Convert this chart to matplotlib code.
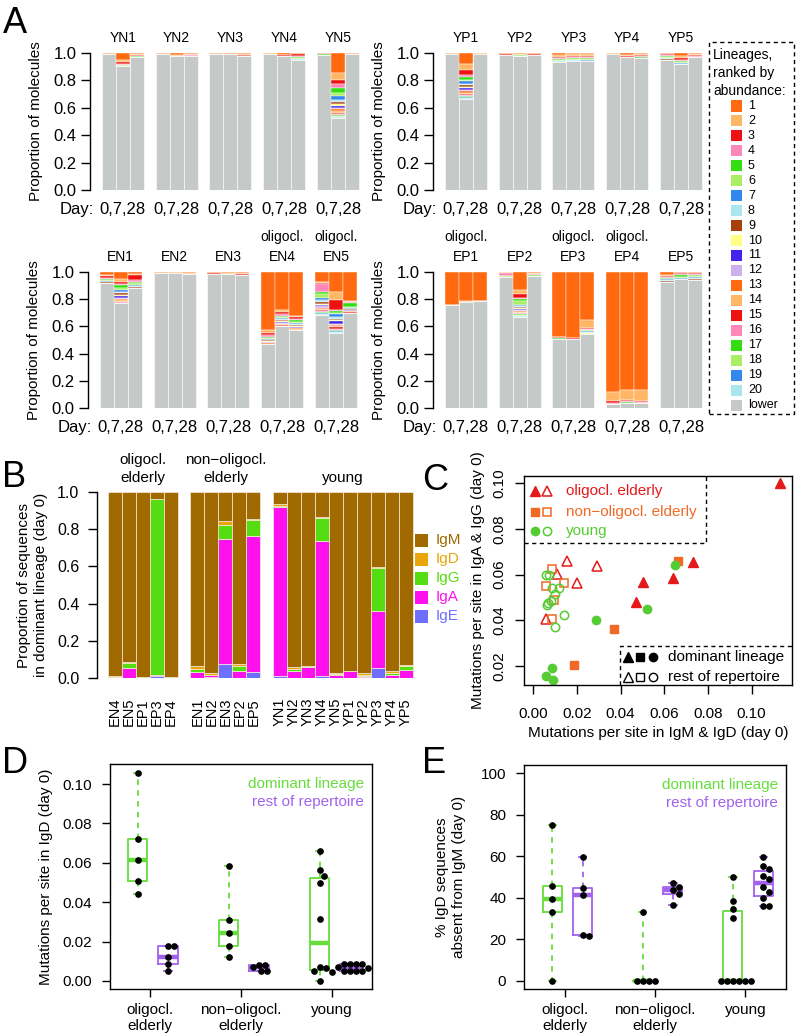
import numpy as np
import matplotlib
matplotlib.use("Agg")
import matplotlib.pyplot as plt
from matplotlib.patches import Rectangle
from matplotlib.lines import Line2D

plt.rcParams['font.family'] = ['Liberation Sans', 'DejaVu Sans']
plt.rcParams['axes.linewidth'] = 1.0

# ---------------- Panel A data: top-20 lineage proportions per day (0, 7, 28) ----------------
days = ["0", "7", "28"]
rank_colors = ['#FF6A10', '#FFB766', '#EE1111', '#FF88BB', '#33DD11', '#AAEE66',
               '#3388EE', '#AAE6EE', '#A8400E', '#FFFF88', '#4422EE', '#CCB0EE']
lower_color = '#C5CAC8'
rank_labels = [str(i) for i in range(1, 21)] + ["lower"]

YN1 = [[0.004, 0.002, 0.002],
       [0.05, 0.018, 0.012, 0.006, 0.004, 0.003, 0.002],
       [0.008, 0.006, 0.005, 0.004, 0.003, 0.002, 0.002]]
YN2 = [[0.005, 0.002, 0.001], [0.012, 0.008, 0.004], [0.008, 0.006, 0.004, 0.002]]
YN3 = [[0.005, 0.003, 0.002], [0.004, 0.002], [0.01, 0.006, 0.004, 0.003]]
YN4 = [[0.003, 0.002], [0.012, 0.006, 0.004],
       [0.004, 0.004, 0.012, 0.008, 0.008, 0.006, 0.005, 0.004]]
YN5 = [[0.001, 0.001, 0.001, 0.006, 0.002],
       [0.146, 0.049, 0.034, 0.029, 0.034, 0.024, 0.029, 0.015, 0.015, 0.01,
        0.015, 0.01, 0.015, 0.01, 0.01, 0.007, 0.007, 0.005, 0.005, 0.005],
       [0.005, 0.003, 0.002]]
YP1 = [[0.003, 0.002],
       [0.078, 0.049, 0.032, 0.017, 0.02, 0.012, 0.017, 0.007, 0.017, 0.007,
        0.017, 0.007, 0.012, 0.007, 0.01, 0.005, 0.005, 0.005, 0.005, 0.005],
       [0.003, 0.002]]
YP2 = [[0.006, 0.004, 0.002], [0.006, 0.005, 0.004, 0.003, 0.003, 0.002, 0.002], [0.005, 0.004, 0.002]]
YP3 = [[0.015, 0.012, 0.01, 0.008, 0.006, 0.006, 0.005, 0.005],
       [0.01, 0.01, 0.008, 0.008, 0.006, 0.006, 0.006, 0.005],
       [0.01, 0.01, 0.01, 0.008, 0.008, 0.006, 0.004, 0.004]]
YP4 = [[0.003, 0.002], [0.015, 0.01, 0.005], [0.01, 0.008, 0.006, 0.006, 0.005]]
YP5 = [[0.004, 0.004, 0.008, 0.006, 0.006, 0.005, 0.005, 0.005, 0.005],
       [0.025, 0.015, 0.01, 0.008, 0.007, 0.006, 0.006, 0.005],
       [0.008, 0.008, 0.006, 0.005, 0.004]]
EN1 = [[0.02, 0.012, 0.01, 0.008, 0.008, 0.007, 0.007, 0.005, 0.005],
       [0.05, 0.02, 0.015, 0.012, 0.02, 0.012, 0.018, 0.01, 0.012, 0.008,
        0.012, 0.008, 0.008, 0.012, 0.005, 0.008],
       [0.012, 0.008, 0.04, 0.012, 0.01, 0.01, 0.008, 0.008, 0.006]]
EN2 = [[0.004, 0.003, 0.002], [0.003, 0.002], [0.008, 0.006, 0.004]]
EN3 = [[0.006, 0.004, 0.002], [0.008, 0.004, 0.003], [0.01, 0.008, 0.004]]
EN4 = [[0.43, 0.02, 0.015, 0.01, 0.008, 0.008, 0.006, 0.006, 0.005, 0.005, 0.005, 0.004, 0.004],
       [0.28, 0.012, 0.02, 0.01, 0.01, 0.008, 0.008, 0.008, 0.007, 0.006, 0.006,
        0.005, 0.005, 0.005, 0.005, 0.005],
       [0.32, 0.012, 0.015, 0.008, 0.01, 0.008, 0.008, 0.008, 0.008, 0.006, 0.006, 0.006, 0.005, 0.005]]
EN5 = [[0.076, 0.005, 0.005, 0.059, 0.015, 0.034, 0.015, 0.012, 0.012, 0.01,
        0.01, 0.01, 0.008, 0.008, 0.008, 0.006, 0.006, 0.005, 0.005, 0.005],
       [0.147, 0.061, 0.069, 0.01, 0.012, 0.01, 0.025, 0.01, 0.01, 0.008,
        0.02, 0.008, 0.01, 0.008, 0.008, 0.008, 0.007, 0.006, 0.005, 0.005],
       [0.215, 0.005, 0.004, 0.004, 0.03, 0.008, 0.004, 0.004, 0.004, 0.003,
        0.003, 0.003, 0.003, 0.003, 0.01]]
EP1 = [[0.24, 0.004, 0.002], [0.21, 0.008, 0.003], [0.21, 0.004, 0.002]]
EP2 = [[0.002, 0.003, 0.002, 0.02, 0.005, 0.004],
       [0.13, 0.03, 0.03, 0.01, 0.012, 0.028, 0.01, 0.008, 0.008, 0.008,
        0.008, 0.006, 0.006, 0.006, 0.005, 0.005, 0.005, 0.005, 0.005, 0.005],
       [0.008, 0.006, 0.004, 0.004, 0.004, 0.005]]
EP3 = [[0.475, 0.003, 0.008, 0.002, 0.002], [0.485, 0.003, 0.002],
       [0.35, 0.06, 0.008, 0.006, 0.006, 0.006, 0.005, 0.005, 0.004, 0.004]]
EP4 = [[0.88, 0.07, 0.012, 0.005, 0.003], [0.87, 0.07, 0.012, 0.006, 0.004],
       [0.865, 0.08, 0.012, 0.005, 0.003]]
EP5 = [[0.025, 0.008, 0.006, 0.006, 0.005, 0.005, 0.005, 0.005, 0.005],
       [0.006, 0.004, 0.008, 0.006, 0.01, 0.008, 0.006, 0.004],
       [0.006, 0.005, 0.004, 0.01, 0.006, 0.008, 0.006, 0.01, 0.004]]

A_names_tl = ["YN1", "YN2", "YN3", "YN4", "YN5"]
A_names_tr = ["YP1", "YP2", "YP3", "YP4", "YP5"]
A_names_bl = ["EN1", "EN2", "EN3", "EN4", "EN5"]
A_names_br = ["EP1", "EP2", "EP3", "EP4", "EP5"]
A_data_tl = [YN1, YN2, YN3, YN4, YN5]
A_data_tr = [YP1, YP2, YP3, YP4, YP5]
A_data_bl = [EN1, EN2, EN3, EN4, EN5]
A_data_br = [EP1, EP2, EP3, EP4, EP5]
oligoclonal = ["EN4", "EN5", "EP1", "EP3", "EP4"]

# ---------------- Panel B data ----------------
B_names = ["EN4", "EN5", "EP1", "EP3", "EP4", "EN1", "EN2", "EN3", "EP2", "EP5",
           "YN1", "YN2", "YN3", "YN4", "YN5", "YP1", "YP2", "YP3", "YP4", "YP5"]
B_group_sizes = [5, 5, 10]
B_group_titles = [("oligocl.", "elderly"), ("non\u2212oligocl.", "elderly"), ("", "young")]
B_IgE = [0.004, 0, 0, 0.01, 0, 0, 0.004, 0.075, 0, 0.03,
         0.012, 0, 0, 0.01, 0, 0, 0.005, 0.052, 0, 0]
B_IgA = [0.002, 0.052, 0.002, 0.005, 0, 0.03, 0.012, 0.67, 0.037, 0.735,
         0.91, 0.038, 0.06, 0.725, 0.018, 0.035, 0.008, 0.31, 0.018, 0.042]
B_IgG = [0, 0.028, 0, 0.945, 0, 0.02, 0.002, 0.075, 0.025, 0.085,
         0.003, 0.012, 0.006, 0.125, 0.002, 0, 0.003, 0.228, 0.01, 0.02]
B_IgD = [0.003, 0.006, 0.006, 0.003, 0.005, 0.015, 0.01, 0.025, 0.012, 0.005,
         0.012, 0.01, 0, 0.005, 0.005, 0.002, 0.012, 0.006, 0.01, 0.008]
B_isotypes = ["IgM", "IgD", "IgG", "IgA", "IgE"]
B_colors = {"IgM": '#A06A00', "IgD": '#E8A60A', "IgG": '#55DD11',
            "IgA": '#FF11EE', "IgE": '#6E6EFF'}

# ---------------- Panel C data ----------------
C_labels = ["oligocl. elderly", "non\u2212oligocl. elderly", "young"]
C_colors = ['#E41A1A', '#F06A25', '#55CC33']
C_markers = ['^', 's', 'o']
C_dom_x = [[0.113, 0.0730, 0.0641, 0.0503, 0.0469],
           [0.0665, 0.0369, 0.0186],
           [0.0649, 0.0519, 0.0287, 0.0084, 0.0061, 0.0089]]
C_dom_y = [[0.100, 0.0656, 0.0587, 0.0570, 0.0481],
           [0.0660, 0.0364, 0.0204],
           [0.0641, 0.0449, 0.0401, 0.0192, 0.0156, 0.0141]]
C_rest_x = [[0.0157, 0.0290, 0.0110, 0.0201, 0.0057],
            [0.0084, 0.0058, 0.0140, 0.0096, 0.0084],
            [0.0058, 0.0073, 0.0087, 0.0119, 0.0101, 0.0067, 0.0064, 0.0142, 0.0098, 0.0081]]
C_rest_y = [[0.0659, 0.0637, 0.0604, 0.0564, 0.0404],
            [0.0627, 0.0550, 0.0564, 0.0489, 0.0404],
            [0.0597, 0.0600, 0.0542, 0.0541, 0.0516, 0.0478, 0.0468, 0.0424, 0.0370, 0.0486]]

# ---------------- Panels D / E data ----------------
group_labels = ["oligocl.\nelderly", "non\u2212oligocl.\nelderly", "young"]
D_dom = [[0.1055, 0.0723, 0.0615, 0.051, 0.044],
         [0.0584, 0.031, 0.0245, 0.0179, 0.012],
         [0.066, 0.0563, 0.0535, 0.0496, 0.0315, 0.0073, 0.0064, 0.0052, 0.0047, 0.0]]
D_rest = [[0.0179, 0.0178, 0.012, 0.0085, 0.0052],
          [0.0081, 0.0080, 0.0070, 0.0052, 0.0050],
          [0.0087, 0.0087, 0.0086, 0.0085, 0.0070, 0.0066, 0.0052, 0.0052, 0.0050, 0.0050]]
E_dom = [[75.0, 45.5, 39.3, 33.3, 0.0],
         [33.3, 0.0, 0.0, 0.0, 0.0],
         [50.0, 38.5, 34.5, 30.0, 0.0, 0.0, 0.0, 0.0, 0.0, 0.0]]
E_rest = [[59.5, 44.6, 41.3, 22.1, 21.5],
          [47.0, 45.0, 43.5, 42.0, 36.7],
          [59.5, 55.5, 54.0, 50.5, 49.0, 45.0, 43.0, 40.0, 35.8, 35.8]]
GREEN = '#66DD3C'
PURPLE = '#A262EE'

# =========================================================================
W, H = 796, 1036
fig = plt.figure(figsize=(W / 100, H / 100), dpi=100)


def axpx(l, t, r, b):
    return fig.add_axes([l / W, 1 - b / H, (r - l) / W, (b - t) / H])


def ftext(x, y, s, **kw):
    return fig.text(x / W, 1 - y / H, s, **kw)


def left_only(ax):
    for s in ['top', 'right', 'bottom']:
        ax.spines[s].set_visible(False)


# ---------------- Panel A ----------------
A_PITCH = 3.84


def lineage_panel(box, names, data):
    ax = axpx(*box)
    for g, (nm, subj) in enumerate(zip(names, data)):
        for i, vals in enumerate(subj):
            x = g * A_PITCH + i
            low = 1.0 - sum(vals)
            ax.bar(x, low, width=1.0, color=lower_color, edgecolor='white', linewidth=0.4)
            top = 1.0
            for r, v in enumerate(vals):
                ax.bar(x, v, bottom=top - v, width=1.0, color=rank_colors[r % 12],
                       edgecolor='white', linewidth=0.3)
                top -= v
        xc = g * A_PITCH + 1
        ax.annotate(nm, (xc, 1.0), xytext=(0, 10.8), textcoords='offset points',
                    ha='center', va='center', fontsize=10, annotation_clip=False)
        if nm in oligoclonal:
            ax.annotate("oligocl.", (xc, 1.0), xytext=(0, 25.2), textcoords='offset points',
                        ha='center', va='center', fontsize=10, annotation_clip=False)
        ax.annotate(",".join(days), (xc, 0.0), xytext=(0, -13.7), textcoords='offset points',
                    ha='center', va='center', fontsize=12, annotation_clip=False)
    ax.annotate("Day:", (0, 0), xycoords='axes fraction', xytext=(2.9, -13.7),
                textcoords='offset points', ha='right', va='center', fontsize=12)
    ax.set_xlim(-1.34, 18.07)
    ax.set_ylim(0, 1)
    ax.set_xticks([])
    ax.set_yticks(np.arange(0, 1.01, 0.2), [f"{v:.1f}" for v in np.arange(0, 1.01, 0.2)])
    ax.tick_params(axis='y', length=6.5, width=1, pad=3, labelsize=12)
    left_only(ax)
    ax.set_ylabel("Proportion of molecules", fontsize=11)
    ax.yaxis.set_label_coords(-54 / 272, 0.5)
    ax.yaxis.label.set_verticalalignment('center')
    return ax


lineage_panel((90, 53, 362, 190), A_names_tl, A_data_tl)
lineage_panel((433, 53, 705, 190), A_names_tr, A_data_tr)
lineage_panel((88, 272, 360, 408), A_names_bl, A_data_bl)
lineage_panel((433, 272, 705, 408), A_names_br, A_data_br)

# Panel A legend (dashed box)
fig.add_artist(Rectangle((709 / W, 1 - 414 / H), (794 - 709) / W, (414 - 42) / H,
                         transform=fig.transFigure, fill=False, ec='black', lw=1,
                         ls=(0, (3, 2.5))))
for k, line in enumerate(["Lineages,", "ranked by", "abundance:"]):
    ftext(713, 55 + 18 * k, line, ha='left', va='center', fontsize=10)
for k, lab in enumerate(rank_labels):
    y = 106 + 14.95 * k
    col = lower_color if lab == "lower" else rank_colors[k % 12]
    fig.add_artist(Rectangle((731 / W, 1 - (y + 5.5) / H), 11 / W, 11 / H,
                             transform=fig.transFigure, fc=col, ec='none'))
    ftext(748, y, lab, ha='left', va='center', fontsize=9)

# ---------------- Panel B ----------------
axB = axpx(97, 492, 415, 678)
B_gap = 0.857
B_pos = []
B_centers = []
start = 0.0
for n in B_group_sizes:
    B_pos += [start + k for k in range(n)]
    B_centers.append(start + (n - 1) / 2)
    start += n + B_gap
B_pos = np.array(B_pos)
B_IgM = 1 - (np.array(B_IgE) + np.array(B_IgA) + np.array(B_IgG) + np.array(B_IgD))
stack = [("IgE", B_IgE), ("IgA", B_IgA), ("IgG", B_IgG), ("IgD", B_IgD), ("IgM", B_IgM)]
cum = np.zeros(len(B_names))
for iso, vals in stack:
    vals = np.array(vals, float)
    axB.bar(B_pos, vals, bottom=cum, width=1.0, color=B_colors[iso],
            edgecolor='#F4EEDD', linewidth=0.5)
    cum += vals
axB.set_xlim(-1.286, 21.36)
axB.set_ylim(0, 1)
axB.set_xticks(B_pos, B_names, rotation=90, fontsize=10.5)
axB.tick_params(axis='x', length=0, pad=14.4)
axB.set_yticks(np.arange(0, 1.01, 0.2), [f"{v:.1f}" for v in np.arange(0, 1.01, 0.2)])
axB.tick_params(axis='y', length=6.7, width=1, pad=6, labelsize=11.5)
left_only(axB)
axB.set_ylabel("Proportion of sequences\nin dominant lineage (day 0)", fontsize=11)
axB.yaxis.set_label_coords((32.5 - 97) / 318, 0.5)
axB.yaxis.label.set_verticalalignment('center')
for c, (l1, l2) in zip(B_centers, B_group_titles):
    if l1:
        axB.annotate(l1, (c, 1.0), xytext=(0, 23), textcoords='offset points',
                     ha='center', va='center', fontsize=11, annotation_clip=False)
    axB.annotate(l2, (c, 1.0), xytext=(0, 10), textcoords='offset points',
                 ha='center', va='center', fontsize=11, annotation_clip=False)
for k, iso in enumerate(B_isotypes):
    y = 540 + 19 * k
    fig.add_artist(Rectangle((415 / W, 1 - (y + 6.5) / H), 13 / W, 13 / H,
                             transform=fig.transFigure, fc=B_colors[iso], ec='none'))
    ftext(436, y, iso, ha='left', va='center', fontsize=11, color=B_colors[iso])

# ---------------- Panel C ----------------
axC = axpx(524, 476, 792, 685)
for lab, col, mk, dx, dy, rx, ry in zip(C_labels, C_colors, C_markers,
                                        C_dom_x, C_dom_y, C_rest_x, C_rest_y):
    ms = 7 if mk == '^' else 6
    axC.plot(rx, ry, mk, ms=ms, mfc='none', mec=col, mew=1.1, ls='none')
    axC.plot(dx, dy, mk, ms=ms, mfc=col, mec=col, ls='none', clip_on=False)
axC.set_xlim(-0.0042, 0.1185)
axC.set_ylim(0.0117, 0.1032)
xt = np.arange(0, 0.101, 0.02)
yt = np.arange(0.02, 0.101, 0.02)
axC.set_xticks(xt, [f"{v:.2f}" for v in xt])
axC.set_yticks(yt, [f"{v:.2f}" for v in yt])
axC.tick_params(axis='x', length=6.5, width=1, pad=9.5, labelsize=11)
axC.tick_params(axis='y', length=6.5, width=1, pad=6, labelsize=11)
for t in axC.get_yticklabels():
    t.set_rotation(90)
    t.set_verticalalignment('center')
axC.set_xlabel("Mutations per site in IgM & IgD (day 0)", fontsize=11)
axC.xaxis.set_label_coords(0.5, (685 - 733) / 209)
axC.xaxis.label.set_verticalalignment('center')
axC.set_ylabel("Mutations per site in IgA & IgG (day 0)", fontsize=11)
axC.yaxis.set_label_coords((478 - 524) / 268, 0.5)
axC.yaxis.label.set_verticalalignment('center')
# legend 1 (group colours)
dash = (0, (3, 2.5))
axC.add_line(Line2D([0, 0.679, 0.679], [0.679, 0.679, 1.0], transform=axC.transAxes,
                    color='black', lw=1, ls=dash, clip_on=False))
for k, (lab, col, mk) in enumerate(zip(C_labels, C_colors, C_markers)):
    yy = [0.928, 0.828, 0.737][k]
    ms = 7 if mk == '^' else 6
    axC.plot([0.041], [yy], mk, ms=ms, mfc=col, mec=col, transform=axC.transAxes, clip_on=False)
    axC.plot([0.086], [yy], mk, ms=ms, mfc='none', mec=col, mew=1.1,
             transform=axC.transAxes, clip_on=False)
    axC.text(0.157, yy, lab, color=col, fontsize=11, ha='left', va='center',
             transform=axC.transAxes)
# legend 2 (filled vs open)
axC.add_line(Line2D([0.358, 0.358, 1.0], [0.0, 0.187, 0.187], transform=axC.transAxes,
                    color='black', lw=1, ls=dash, clip_on=False))
for k, (lab, filled) in enumerate([("dominant lineage", True), ("rest of repertoire", False)]):
    yy = [0.134, 0.038][k]
    for mk, xx in zip(C_markers, [0.388, 0.433, 0.481]):
        ms = 7 if mk == '^' else 6
        axC.plot([xx], [yy], mk, ms=ms, mfc='black' if filled else 'none', mec='black',
                 mew=1.0, transform=axC.transAxes, clip_on=False)
    axC.text(0.537, yy, lab, fontsize=11, ha='left', va='center', transform=axC.transAxes)


# ---------------- Panels D and E ----------------
def swarm_x(ax, center, vals, d_px=6.0):
    vals = np.asarray(vals, float)
    pts = ax.transData.transform(np.column_stack([np.full(len(vals), center), vals]))
    xc = pts[0, 0]
    placed = []
    xs = np.empty(len(vals))
    step = d_px / 3.0
    cands = [0.0]
    for j in range(1, 40):
        cands += [j * step, -j * step]
    for i in range(len(vals)):
        y = pts[i, 1]
        for c in cands:
            x = xc + c
            if all(np.hypot(x - px, y - py) >= d_px for px, py in placed):
                break
        xs[i] = x
        placed.append((x, y))
    back = ax.transData.inverted().transform(np.column_stack([xs, pts[:, 1]]))
    return back[:, 0]


def box_panel(box, dom, rest, ylim, yticks, ylabels, ylabel, ylab_x, xlim):
    ax = axpx(*box)
    ax.set_xlim(*xlim)
    ax.set_ylim(*ylim)
    pos_dom = [i + 1 - 0.137 for i in range(3)]
    pos_rest = [i + 1 + 0.198 for i in range(3)]
    for data, pos, col in ((dom, pos_dom, GREEN), (rest, pos_rest, PURPLE)):
        ax.boxplot(data, positions=pos, widths=0.21, whis=(0, 100), showfliers=False,
                   manage_ticks=False, capwidths=0.08,
                   boxprops=dict(color=col, lw=1.3),
                   medianprops=dict(color=col, lw=3.2, solid_capstyle='butt'),
                   whiskerprops=dict(color=col, lw=1.3, ls=(0, (3, 3))),
                   capprops=dict(color=col, lw=1.3))
    for data, pos in ((dom, pos_dom), (rest, pos_rest)):
        for p, vals in zip(pos, data):
            xs = swarm_x(ax, p, vals)
            ax.plot(xs, vals, 'o', color='black', ms=3.8, ls='none', zorder=5, clip_on=False)
    ax.set_xticks([1, 2, 3], group_labels, fontsize=11)
    ax.set_yticks(yticks, ylabels)
    ax.tick_params(axis='x', length=5.8, width=1, pad=4)
    ax.tick_params(axis='y', length=5.8, width=1, pad=7, labelsize=11)
    ax.set_ylabel(ylabel, fontsize=11)
    ax.yaxis.set_label_coords(ylab_x, 0.5)
    ax.yaxis.label.set_verticalalignment('center')
    ax.text(0.969, 0.911, "dominant lineage", color=GREEN, fontsize=11, ha='right',
            va='center', transform=ax.transAxes)
    ax.text(0.969, 0.831, "rest of repertoire", color=PURPLE, fontsize=11, ha='right',
            va='center', transform=ax.transAxes)
    return ax


dt = np.arange(0, 0.101, 0.02)
box_panel((110, 764, 372, 989), D_dom, D_rest, (-0.0041, 0.1102), dt,
          [f"{v:.2f}" for v in dt], "Mutations per site in IgD (day 0)", (46 - 110) / 262,
          (0.56, 3.44))
et = np.arange(0, 101, 20)
box_panel((524, 765, 786, 989), E_dom, E_rest, (-4, 104), et,
          [str(v) for v in et], "% IgD sequences\nabsent from IgM (day 0)",
          (450.5 - 524) / 262, (0.55, 3.45))

# ---------------- panel letters ----------------
for letter, x, y in [("A", 3, 33), ("B", 2, 487), ("C", 422, 490), ("D", 2, 773), ("E", 422, 773)]:
    ftext(x, y, letter, fontsize=26, ha='left', va='baseline')

fig.savefig("out.png", dpi=100)
